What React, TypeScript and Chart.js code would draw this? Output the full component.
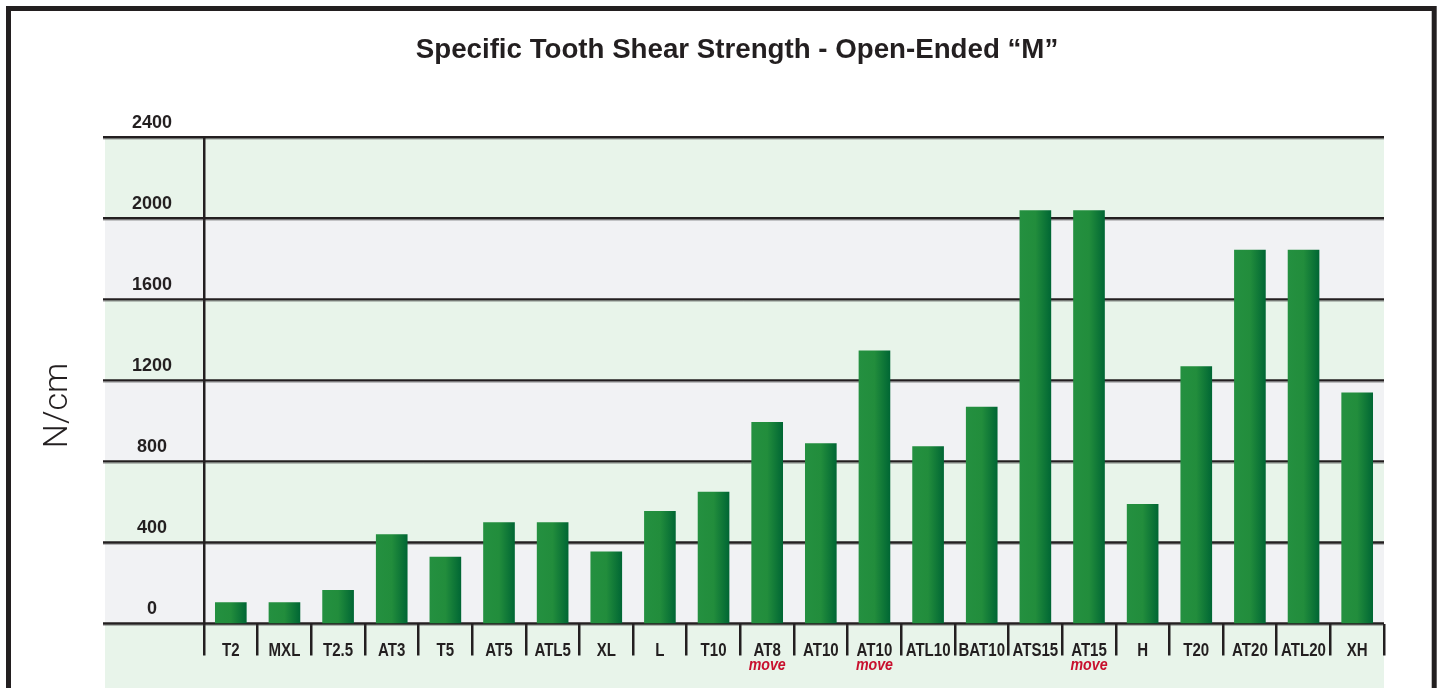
import React, { useEffect, useRef } from "react";
import { Chart, registerables } from "chart.js";

Chart.register(...registerables);

const categories = ["T2", "MXL", "T2.5", "AT3", "T5", "AT5", "ATL5", "XL", "L", "T10", "AT8", "AT10", "AT10", "ATL10", "BAT10", "ATS15", "AT15", "H", "T20", "AT20", "ATL20", "XH"];
const subLabels = ["", "", "", "", "", "", "", "", "", "", "move", "", "move", "", "", "", "move", "", "", "", "", ""];
const shearStrength = [105, 105, 165, 440, 330, 500, 500, 355, 555, 650, 995, 890, 1348, 875, 1070, 2040, 2040, 590, 1270, 1845, 1845, 1140];
const yTicks = [0, 400, 800, 1200, 1600, 2000, 2400];
const chartTitle = "Specific Tooth Shear Strength - Open-Ended “M”";
const yAxisTitle = "N/cm";

const INK = "#231f20";
const BAND_GREEN = "#e8f4ea";
const BAND_GRAY = "#f1f2f4";
const BAND_LEFT = 105;
const LINE_LEFT = 103;
const MOVE_RED = "#c8102e";
const SANS = "'Liberation Sans', Arial, sans-serif";
const BAR_PCT = 0.59;
const CONDENSE = 0.86;

const decorPlugin = {
  id: "decor",
  beforeDraw(chart: any) {
    const { ctx, chartArea, scales } = chart;
    const y = scales.y;
    ctx.save();
    for (let i = 0; i < yTicks.length - 1; i++) {
      const y1 = y.getPixelForValue(yTicks[i]);
      const y2 = y.getPixelForValue(yTicks[i + 1]);
      ctx.fillStyle = i % 2 === 0 ? BAND_GRAY : BAND_GREEN;
      ctx.fillRect(BAND_LEFT, y2, chartArea.right - BAND_LEFT, y1 - y2);
    }
    const y0 = y.getPixelForValue(yTicks[0]);
    ctx.fillStyle = BAND_GREEN;
    ctx.fillRect(BAND_LEFT, y0, chartArea.right - BAND_LEFT, chart.height - y0);
    ctx.restore();
  },
  beforeDatasetsDraw(chart: any) {
    const { ctx, chartArea, scales } = chart;
    const y = scales.y;
    ctx.save();
    yTicks.forEach((v) => {
      const py = y.getPixelForValue(v);
      ctx.strokeStyle = "rgba(60,60,60,0.45)";
      ctx.lineWidth = 1;
      ctx.beginPath();
      ctx.moveTo(LINE_LEFT, py + 1.8);
      ctx.lineTo(chartArea.right, py + 1.8);
      ctx.stroke();
      ctx.strokeStyle = INK;
      ctx.lineWidth = 2.4;
      ctx.beginPath();
      ctx.moveTo(LINE_LEFT, py);
      ctx.lineTo(chartArea.right, py);
      ctx.stroke();
    });
    ctx.restore();
  },
  afterDraw(chart: any) {
    const { ctx, scales } = chart;
    const x = scales.x;
    // category labels (condensed bold) and red sub labels
    categories.forEach((lab, i) => {
      const px = x.getPixelForValue(i);
      ctx.save();
      ctx.translate(px, 656);
      ctx.scale(CONDENSE, 1);
      ctx.fillStyle = INK;
      ctx.font = `bold 17.5px ${SANS}`;
      ctx.textAlign = "center";
      ctx.textBaseline = "alphabetic";
      ctx.fillText(lab, 0, 0);
      if (subLabels[i]) {
        ctx.fillStyle = MOVE_RED;
        ctx.font = `italic bold 16.5px ${SANS}`;
        ctx.fillText(subLabels[i], 0, 13.5);
      }
      ctx.restore();
    });
    ctx.save();
    ctx.fillStyle = INK;
    ctx.font = `300 34px Roboto, ${SANS}`;
    ctx.translate(58.5, 405.5);
    ctx.rotate(-Math.PI / 2);
    ctx.textAlign = "center";
    ctx.textBaseline = "middle";
    ctx.fillText(yAxisTitle, 0, 0);
    ctx.restore();
    ctx.save();
    ctx.strokeStyle = INK;
    ctx.lineWidth = 5;
    ctx.strokeRect(8.5, 8.5, 1425.7, 760);
    ctx.restore();
  },
};

function barFill(c: any) {
  const ch = c.chart;
  const xs = ch.scales && ch.scales.x;
  if (!xs || c.dataIndex === undefined) return "#238e3c";
  const center = xs.getPixelForValue(c.dataIndex);
  const step = xs.getPixelForValue(1) - xs.getPixelForValue(0);
  if (!isFinite(center) || !isFinite(step) || step <= 0) return "#238e3c";
  const w = step * BAR_PCT;
  const g = ch.ctx.createLinearGradient(center - w / 2, 0, center + w / 2, 0);
  g.addColorStop(0, "#249040");
  g.addColorStop(0.5, "#228d3c");
  g.addColorStop(1, "#006634");
  return g;
}

export default function App() {
  const ref = useRef<HTMLCanvasElement | null>(null);

  useEffect(() => {
    if (!ref.current) return;
    const chart = new Chart(ref.current, {
      type: "bar",
      data: {
        labels: categories,
        datasets: [
          {
            data: shearStrength,
            borderWidth: 0,
            barPercentage: BAR_PCT,
            categoryPercentage: 1,
            backgroundColor: barFill,
          },
        ],
      },
      options: {
        animation: false,
        responsive: false,
        devicePixelRatio: 1,
        layout: { padding: { left: 90, right: 58, top: 0, bottom: 0 } },
        plugins: {
          legend: { display: false },
          tooltip: { enabled: false },
          title: {
            display: true,
            text: chartTitle,
            color: INK,
            font: { family: SANS, size: 27.7, weight: "bold" },
            padding: { top: 34, bottom: 70 },
          },
        },
        scales: {
          x: {
            offset: true,
            afterFit: (s: any) => {
              s.height = 64.5;
            },
            border: { display: false },
            grid: {
              offset: true,
              drawOnChartArea: false,
              drawTicks: true,
              tickLength: 32,
              color: INK,
              tickColor: INK,
              lineWidth: 2.5,
            },
            ticks: {
              display: false,
              autoSkip: false,
              maxRotation: 0,
            },
          },
          y: {
            min: 0,
            max: 2400,
            afterFit: (s: any) => {
              s.width = 114;
            },
            afterBuildTicks: (s: any) => {
              s.ticks = yTicks.map((v) => ({ value: v }));
            },
            border: { display: true, color: INK, width: 2.5 },
            grid: { display: false, drawTicks: false },
            ticks: {
              color: INK,
              font: { family: SANS, size: 18, weight: "bold" },
              crossAlign: "center",
              padding: 32,
              labelOffset: -14,
              callback: (v: any) => String(v),
            },
          },
        },
      },
      plugins: [decorPlugin],
    } as any);
    return () => chart.destroy();
  }, []);

  return (
    <div style={{ position: "absolute", left: 0, top: 0, width: 1442, height: 688, background: "#ffffff" }}>
      <canvas ref={ref} width={1442} height={688} style={{ display: "block" }} />
    </div>
  );
}
